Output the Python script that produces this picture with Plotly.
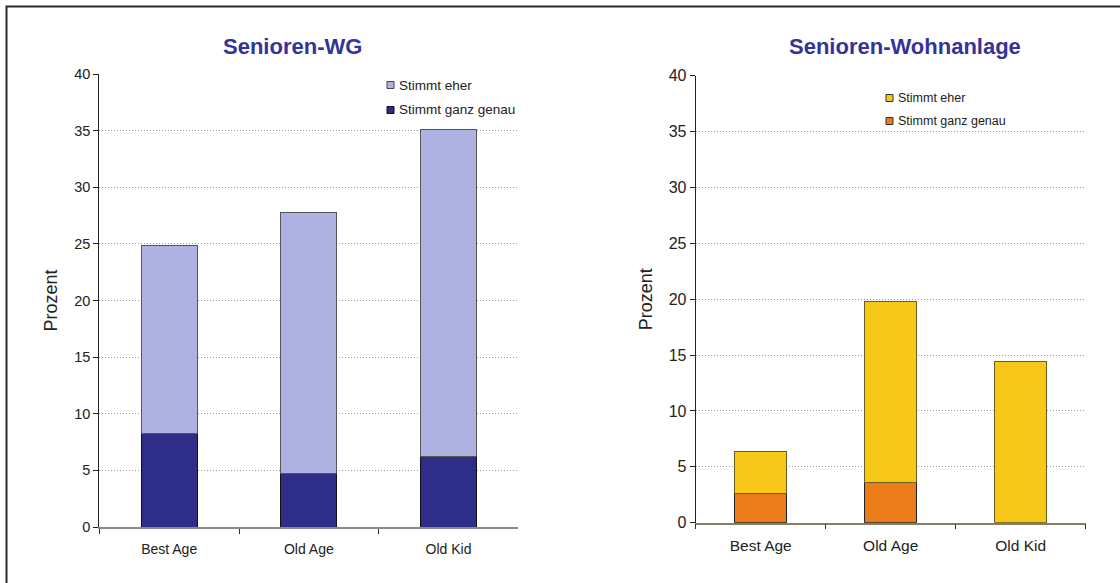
import plotly.graph_objects as go

# Kategorien (Zielgruppen)
categories = ["Best Age", "Old Age", "Old Kid"]

# Senioren-WG: Anteile in Prozent
wg_ganz_genau = [8.3, 4.7, 6.2]
wg_eher = [16.6, 23.1, 28.9]

# Senioren-Wohnanlage: Anteile in Prozent
wa_ganz_genau = [2.6, 3.6, 0.0]
wa_eher = [3.8, 16.2, 14.4]

y_ticks = [0, 5, 10, 15, 20, 25, 30, 35, 40]
legend_labels = ["Stimmt eher", "Stimmt ganz genau"]

W, H = 1120, 583
FONT = "Liberation Sans, Arial, sans-serif"
TITLE_COLOR = "#333399"

WG_LIGHT, WG_DARK = "#AEB2E0", "#2E2E88"
WA_YELLOW, WA_ORANGE = "#F7C81A", "#EC7B1A"


def px_x(v):
    return v / W


def px_y(v):
    return 1 - v / H


fig = go.Figure()

# --- Senioren-WG (links) ---
fig.add_trace(go.Bar(
    x=categories, y=wg_ganz_genau, name=legend_labels[1],
    marker=dict(color=WG_DARK, line=dict(color="#111111", width=1)),
    width=0.4, xaxis="x", yaxis="y",
))
fig.add_trace(go.Bar(
    x=categories, y=wg_eher, name=legend_labels[0],
    marker=dict(color=WG_LIGHT, line=dict(color="#555555", width=1)),
    width=0.4, xaxis="x", yaxis="y",
))

# --- Senioren-Wohnanlage (rechts) ---
fig.add_trace(go.Bar(
    x=categories, y=wa_ganz_genau, name=legend_labels[1],
    marker=dict(color=WA_ORANGE, line=dict(color="#222222", width=1)),
    width=0.4, xaxis="x2", yaxis="y2",
))
fig.add_trace(go.Bar(
    x=categories, y=wa_eher, name=legend_labels[0],
    marker=dict(color=WA_YELLOW, line=dict(color="#6B5E20", width=1)),
    width=0.4, xaxis="x2", yaxis="y2",
))

# Kompakte Legende je Diagramm: kleines Farbquadrat + Beschriftung
shapes = []
annotations = []


def add_legend(x_box, y_first, step, box, size, colors, edges):
    for i, (label, col, edge) in enumerate(zip(legend_labels, colors, edges)):
        yc = y_first + i * step
        shapes.append(dict(
            type="rect", xref="paper", yref="paper",
            x0=px_x(x_box), x1=px_x(x_box + box),
            y0=px_y(yc + box / 2), y1=px_y(yc - box / 2),
            fillcolor=col, line=dict(color=edge, width=1),
        ))
        annotations.append(dict(
            text=label, xref="paper", yref="paper",
            x=px_x(x_box + box + 3), y=px_y(yc),
            xanchor="left", yanchor="middle", showarrow=False,
            font=dict(family=FONT, size=size, color="#222222"),
        ))


add_legend(387, 85, 25, 7, 13.5, [WG_LIGHT, WG_DARK], ["#444444", "#111111"])
add_legend(886, 98, 23, 7, 12.5, [WA_YELLOW, WA_ORANGE], ["#333333", "#333333"])

annotations += [
    dict(text="<b>Senioren-WG</b>", x=px_x(292), y=px_y(47),
         xref="paper", yref="paper", showarrow=False,
         xanchor="center", yanchor="middle",
         font=dict(family=FONT, size=22, color=TITLE_COLOR)),
    dict(text="<b>Senioren-Wohnanlage</b>", x=px_x(905), y=px_y(47),
         xref="paper", yref="paper", showarrow=False,
         xanchor="center", yanchor="middle",
         font=dict(family=FONT, size=22, color=TITLE_COLOR)),
]

# Rahmen (oben und links sichtbar)
shapes.append(dict(
    type="rect", xref="paper", yref="paper",
    x0=px_x(6.5), x1=1.05, y0=-0.05, y1=px_y(6.5),
    line=dict(color="#2A2A2A", width=2), fillcolor="rgba(0,0,0,0)",
    layer="above",
))


def yaxis_cfg(domain, size, anchor):
    return dict(
        domain=domain, range=[0, 40], tickvals=y_ticks, anchor=anchor,
        showgrid=True, gridcolor="#9A9A9A", griddash="1px,2px", gridwidth=1,
        zeroline=False, showline=True, linecolor="#222222", linewidth=1,
        ticks="outside", ticklen=5, tickcolor="#222222",
        tickfont=dict(family=FONT, size=size, color="#222222"),
        title=dict(text="Prozent", font=dict(family=FONT, size=18, color="#222222"),
                   standoff=11),
        automargin=False, fixedrange=True,
    )


def xaxis_cfg(domain, size, anchor, linecolor):
    return dict(
        domain=domain, anchor=anchor, type="category",
        showgrid=False, zeroline=False, showline=True,
        linecolor=linecolor, linewidth=1.5,
        ticks="outside", ticklen=5, tickcolor="#333333", tickson="boundaries",
        ticklabelstandoff=8,
        tickfont=dict(family=FONT, size=size, color="#222222"),
        automargin=False, fixedrange=True,
    )


fig.update_layout(
    width=W, height=H, autosize=False,
    margin=dict(l=0, r=0, t=0, b=0, pad=0, autoexpand=False),
    paper_bgcolor="white", plot_bgcolor="white",
    barmode="stack", showlegend=False,
    font=dict(family=FONT, color="#222222"),
    xaxis=xaxis_cfg([px_x(99.3), px_x(518.4)], 14, "y", "#8A8A8A"),
    yaxis=yaxis_cfg([px_y(527), px_y(74)], 14.5, "x"),
    xaxis2=xaxis_cfg([px_x(695.7), px_x(1085.7)], 15.5, "y2", "#857F63"),
    yaxis2=yaxis_cfg([px_y(522.7), px_y(75.7)], 16, "x2"),
    annotations=annotations,
    shapes=shapes,
)

fig.write_html("out.html")
